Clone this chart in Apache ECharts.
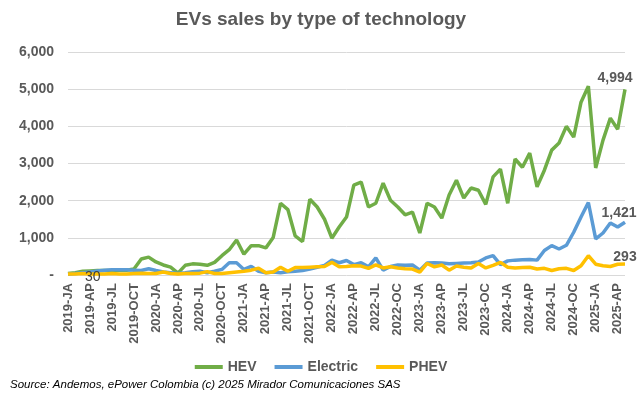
<!DOCTYPE html>
<html>
<head>
<meta charset="utf-8">
<script src="https://cdn.jsdelivr.net/npm/echarts@6/dist/echarts.min.js"></script>
<style>
	html, body { margin: 0; padding: 0; background: #fff; }
	#chart { width: 642px; height: 397px; }
</style>
</head>
<body>
<div id="chart"></div>
<script>
// months, Jan 2019 .. May 2025
var months = [
	'2019-JA', '2019-FE', '2019-MR', '2019-AP', '2019-MY', '2019-JN', '2019-JL', '2019-AU', '2019-SE', '2019-OCT', '2019-NO', '2019-DE',
	'2020-JA', '2020-FE', '2020-MR', '2020-AP', '2020-MY', '2020-JN', '2020-JL', '2020-AU', '2020-SE', '2020-OCT', '2020-NO', '2020-DE',
	'2021-JA', '2021-FE', '2021-MR', '2021-AP', '2021-MY', '2021-JN', '2021-JL', '2021-AU', '2021-SE', '2021-OCT', '2021-NO', '2021-DE',
	'2022-JA', '2022-FE', '2022-MR', '2022-AP', '2022-MY', '2022-JN', '2022-JL', '2022-AU', '2022-SE', '2022-OC', '2022-NO', '2022-DE',
	'2023-JA', '2023-FE', '2023-MR', '2023-AP', '2023-MY', '2023-JN', '2023-JL', '2023-AU', '2023-SE', '2023-OC', '2023-NO', '2023-DE',
	'2024-JA', '2024-FE', '2024-MR', '2024-AP', '2024-MY', '2024-JN', '2024-JL', '2024-AU', '2024-SE', '2024-OC', '2024-NO', '2024-DE',
	'2025-JA', '2025-FE', '2025-MR', '2025-AP', '2025-MY'
];

var hev = [
	40, 60, 100, 110, 120, 120, 120, 130, 130, 160, 430, 480,
	350, 270, 210, 50, 260, 300, 290, 260, 340, 520, 680, 940,
	560, 790, 790, 730, 1010, 1930, 1760, 1050, 900, 2040, 1830, 1500,
	990, 1290, 1560, 2420, 2500, 1830, 1930, 2470, 2010, 1830, 1620, 1690,
	1130, 1930, 1830, 1530, 2150, 2550, 2070, 2340, 2280, 1900, 2640, 2850,
	1930, 3120, 2900, 3280, 2370, 2820, 3360, 3550, 4000, 3710, 4650, 5080,
	2880, 3630, 4220, 3920, 4994
];

var electric = [
	20, 40, 60, 80, 110, 130, 140, 140, 140, 130, 120, 170,
	120, 80, 60, 40, 60, 90, 100, 60, 100, 150, 330, 330,
	150, 230, 100, 60, 80, 60, 90, 100, 120, 160, 210, 260,
	400, 330, 390, 280, 330, 220, 460, 130, 230, 270, 260, 270,
	130, 320, 330, 320, 300, 310, 320, 330, 350, 460, 520, 280,
	380, 400, 410, 420, 400, 660, 790, 700, 800, 1150, 1560, 1950,
	970, 1130, 1400, 1290, 1421
];

var phev = [
	30, 30, 40, 30, 30, 30, 40, 30, 30, 40, 50, 40,
	40, 80, 40, 30, 40, 40, 50, 90, 40, 40, 60, 80,
	100, 130, 180, 60, 80, 210, 100, 200, 200, 210, 220, 230,
	340, 220, 230, 250, 240, 180, 270, 190, 220, 190, 170, 160,
	80, 310, 220, 270, 130, 240, 210, 190, 310, 190, 260, 340,
	210, 190, 200, 210, 160, 180, 120, 170, 180, 120, 250, 520,
	290, 250, 230, 290, 293
];

var yTicks = [0, 1000, 2000, 3000, 4000, 5000, 6000];

var grey = '#595959';
var font = 'Liberation Sans';

// label only the last point (and the first PHEV point)
function lastLabel(arr, dx, dy) {
	return arr.map(function (v, i) {
		if (i === arr.length - 1) {
			return {
				value: v,
				label: {
					show: true, position: 'top', offset: [dx, dy],
					formatter: function (p) { return p.value.toLocaleString('en-US'); },
					color: grey, fontSize: 14, fontWeight: 'bold', fontFamily: font
				}
			};
		}
		return v;
	});
}

var phevData = lastLabel(phev, 0, 5);
phevData[0] = {
	value: phev[0],
	label: {
		show: true, position: 'right', offset: [12, 3],
		color: '#404040', fontSize: 14, fontFamily: font
	}
};

function lineSeries(name, color, data) {
	return {
		name: name,
		type: 'line',
		symbol: 'circle',
		symbolSize: 0,
		showSymbol: true,
		showAllSymbol: true,
		lineStyle: { width: 3.5, color: color },
		itemStyle: { color: color },
		data: data
	};
}

var option = {
	animation: false,
	textStyle: { fontFamily: font },
	title: {
		text: 'EVs sales by type of technology',
		left: 'center',
		top: 5,
		textStyle: { color: grey, fontSize: 19, fontWeight: 'bold', fontFamily: font }
	},
	grid: {
		left: 68,
		right: 17,
		top: 52,
		bottom: 122,
		containLabel: false
	},
	legend: {
		bottom: 18,
		left: 'center',
		icon: 'rect',
		itemWidth: 28,
		itemHeight: 4,
		itemGap: 18,
		textStyle: { color: grey, fontSize: 14, fontWeight: 'bold', fontFamily: font },
		data: ['HEV', 'Electric', 'PHEV']
	},
	graphic: [{
		type: 'text',
		left: 10,
		top: 379,
		style: {
			text: 'Source: Andemos, ePower Colombia (c) 2025 Mirador Comunicaciones SAS',
			fill: '#000',
			font: 'italic 11.5px ' + font
		}
	}],
	xAxis: {
		type: 'category',
		boundaryGap: false,
		data: months,
		axisTick: { show: false },
		axisLine: { show: false },
		splitLine: { show: false },
		axisLabel: {
			interval: 2,
			rotate: 90,
			margin: 8,
			color: grey,
			fontSize: 13,
			fontWeight: 'bold',
			fontFamily: font
		}
	},
	yAxis: {
		type: 'value',
		min: yTicks[0],
		max: yTicks[yTicks.length - 1],
		interval: 1000,
		axisTick: { show: false },
		axisLine: { show: false },
		splitLine: { lineStyle: { color: '#D9D9D9', width: 1 } },
		axisLabel: {
			margin: 14,
			color: grey,
			fontSize: 14,
			fontWeight: 'bold',
			fontFamily: font,
			formatter: function (v) { return v === 0 ? '-' : v.toLocaleString('en-US'); }
		}
	},
	series: [
		lineSeries('HEV', '#70AD47', lastLabel(hev, -10, 1)),
		lineSeries('Electric', '#5B9BD5', lastLabel(electric, -6, 3)),
		lineSeries('PHEV', '#FFC000', phevData)
	]
};

echarts.init(document.getElementById('chart')).setOption(option);
</script>
</body>
</html>
